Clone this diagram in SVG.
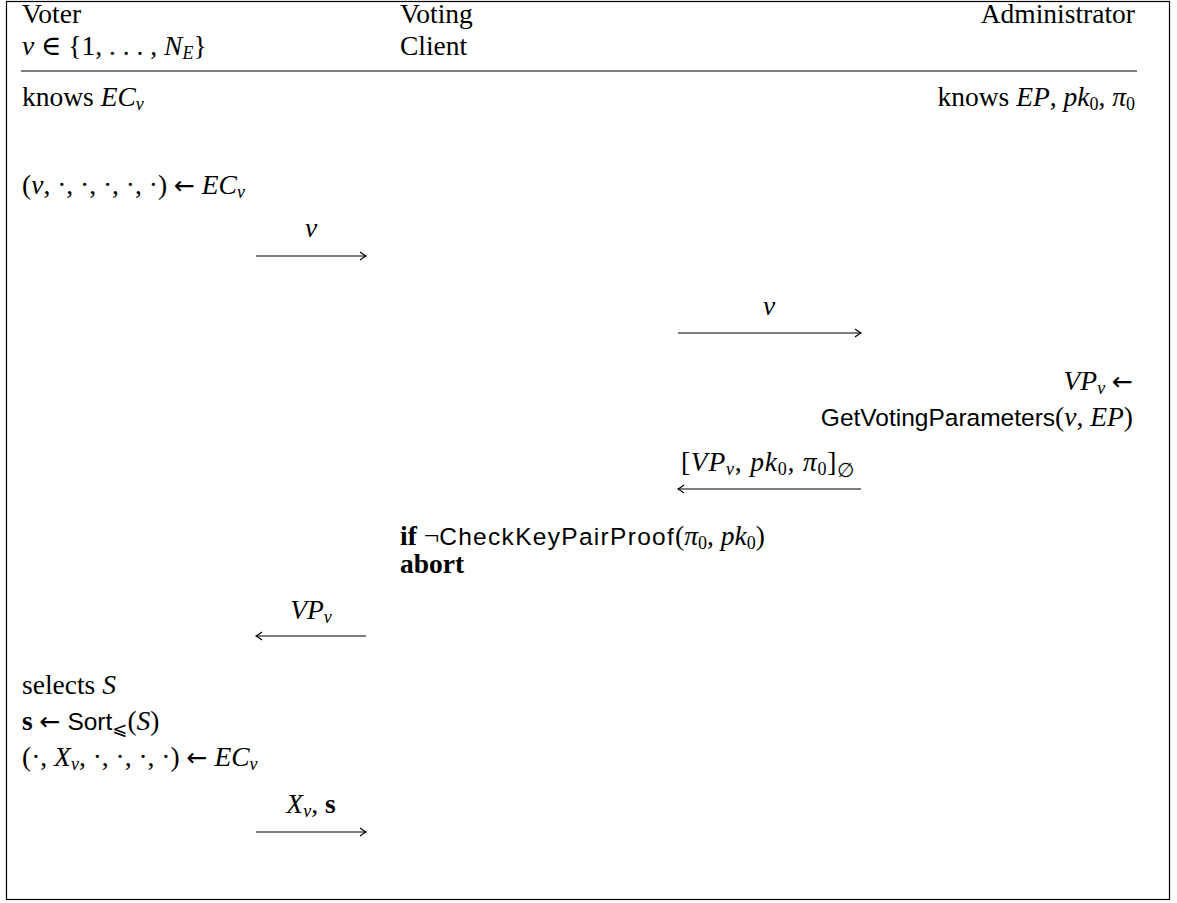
<svg xmlns="http://www.w3.org/2000/svg" width="1177" height="903" viewBox="0 0 1177 903">
<style>
text{font-family:"Liberation Serif","DejaVu Serif",serif;font-size:27.5px;fill:#000}
.i{font-style:italic}
.b{font-weight:bold}
.sf{font-family:"Liberation Sans","DejaVu Sans",sans-serif;font-size:24.5px}
.s{font-size:18px}
.ar{font-family:"DejaVu Sans",sans-serif;font-size:25px}
.e{text-anchor:end}
.m{text-anchor:middle}
.ln{stroke:#000;stroke-width:1.1;fill:none}
</style>
<defs>
<marker id="ah" markerUnits="userSpaceOnUse" markerWidth="12" markerHeight="12" viewBox="-8 -6 10 12" refX="0" refY="0" orient="auto">
<path d="M-6,-4 Q-2,-1 0,0 Q-2,1 -6,4" fill="none" stroke="#000" stroke-width="1.1"/>
</marker>
</defs>
<rect x="6.5" y="1.5" width="1163" height="898" fill="#fff" stroke="#000" stroke-width="1.2"/>
<g id="header">
<text x="22" y="23">Voter</text>
<text x="22" y="55"><tspan class="i">v</tspan> ∈ {1, . . . , <tspan class="i">N</tspan><tspan class="s i" dy="4">E</tspan><tspan dy="-4">}</tspan></text>
<text x="400" y="23">Voting</text>
<text x="400" y="55">Client</text>
<text x="1135" y="23" class="e">Administrator</text>
<line x1="21" y1="71" x2="1137" y2="71" class="ln"/>
</g>
<g id="voter">
<text x="22" y="106">knows <tspan class="i">EC</tspan><tspan class="s i" dy="4">v</tspan></text>
<text x="22" y="194">(<tspan class="i">v</tspan>, ·, ·, ·, ·, ·) <tspan class="ar">←</tspan> <tspan class="i">EC</tspan><tspan class="s i" dy="4">v</tspan></text>
<text x="22" y="694">selects <tspan class="i">S</tspan></text>
<text x="22" y="730"><tspan class="b">s</tspan> <tspan class="ar">←</tspan> <tspan class="sf">Sort</tspan><tspan class="s" dy="5" font-family="DejaVu Sans">⩽</tspan><tspan dy="-5">(</tspan><tspan class="i">S</tspan>)</text>
<text x="22" y="766">(·, <tspan class="i">X</tspan><tspan class="s i" dy="4">v</tspan><tspan dy="-4">, ·, ·, ·, ·) </tspan><tspan class="ar">←</tspan> <tspan class="i">EC</tspan><tspan class="s i" dy="4">v</tspan></text>
</g>
<g id="client">
<text x="400" y="545"><tspan class="b">if</tspan> ¬<tspan class="sf" style="letter-spacing:1.3px">CheckKeyPairProof</tspan>(<tspan class="i">π</tspan><tspan class="s" dy="4">0</tspan><tspan dy="-4">, </tspan><tspan class="i">pk</tspan><tspan class="s" dy="4">0</tspan><tspan dy="-4">)</tspan></text>
<text x="400" y="573" class="b">abort</text>
</g>
<g id="admin">
<text x="1135" y="106" class="e">knows <tspan class="i">EP</tspan>, <tspan class="i">pk</tspan><tspan class="s" dy="4">0</tspan><tspan dy="-4">, </tspan><tspan class="i">π</tspan><tspan class="s" dy="4">0</tspan></text>
<text x="1133" y="390" class="e"><tspan class="i">VP</tspan><tspan class="s i" dy="4">v</tspan><tspan dy="-4"> </tspan><tspan class="ar">←</tspan></text>
<text x="1133" y="426" class="e"><tspan class="sf">GetVotingParameters</tspan>(<tspan class="i">v</tspan>, <tspan class="i">EP</tspan>)</text>
</g>
<g id="connectors">
<line x1="256" y1="256" x2="366" y2="256" class="ln" marker-end="url(#ah)"/>
<text x="311" y="237" class="m i">v</text>
<line x1="678" y1="333" x2="861" y2="333" class="ln" marker-end="url(#ah)"/>
<text x="769" y="315" class="m i">v</text>
<line x1="861" y1="489" x2="678" y2="489" class="ln" marker-end="url(#ah)"/>
<text x="768" y="471" class="m" style="letter-spacing:0.8px">[<tspan class="i">VP</tspan><tspan class="s i" dy="4">v</tspan><tspan dy="-4">, </tspan><tspan class="i">pk</tspan><tspan class="s" dy="4">0</tspan><tspan dy="-4">, </tspan><tspan class="i">π</tspan><tspan class="s" dy="4">0</tspan><tspan dy="-4">]</tspan><tspan dy="6" style="font-size:20px">∅</tspan></text>
<line x1="366" y1="636" x2="256" y2="636" class="ln" marker-end="url(#ah)"/>
<text x="311" y="619" class="m"><tspan class="i">VP</tspan><tspan class="s i" dy="4">v</tspan></text>
<line x1="256" y1="832" x2="366" y2="832" class="ln" marker-end="url(#ah)"/>
<text x="311" y="813" class="m"><tspan class="i">X</tspan><tspan class="s i" dy="4">v</tspan><tspan dy="-4">, </tspan><tspan class="b">s</tspan></text>
</g>
</svg>
